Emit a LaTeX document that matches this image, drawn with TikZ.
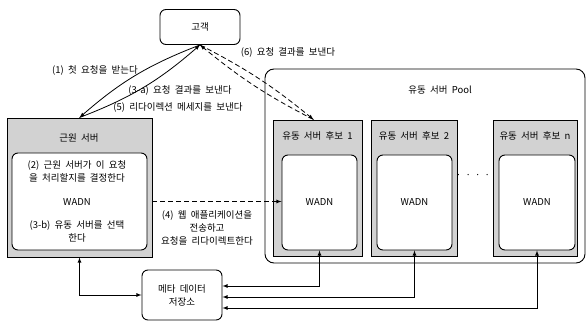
\documentclass[tikz,border=0pt]{standalone}
\usepackage{fontspec}
\setmainfont[WordSpace=2]{Noto Sans CJK KR}
\usetikzlibrary{arrows,positioning,calc}
\begin{document}
\begin{tikzpicture}[x=1pt,y=-1pt,>=latex,
  box/.style={draw,line width=0.9pt,rectangle,inner sep=0pt},
  srv/.style={box,fill=gray!35},
  wadn/.style={box,fill=white,rounded corners=6pt},
  lbl/.style={inner sep=1pt,font=\fontsize{9.5}{13}\selectfont,align=center},
  dsh/.style={->,thick,dash pattern=on 5pt off 3pt}]
  \useasboundingbox (0,0) rectangle (587,323);
  \node[box,lbl,rounded corners=6pt,minimum width=80pt,minimum height=35pt] (cust) at (200,27) {고객};

  \node[box,rounded corners=9pt,minimum width=320pt,minimum height=194pt] (pool) at (425,166) {};
  \node[lbl] (pooltxt) at (440,90) {유동 서버 Pool};

  \node[srv,minimum width=145pt,minimum height=139pt] (near) at (79.5,187.5) {};
  \node[wadn,minimum width=135pt,minimum height=97pt] (nearin) at (79.5,201.5) {};
  \node[lbl] (neartxt) at (79,138) {근원 서버};
  \node[lbl] (step2) at (77,171) {(2) 근원 서버가 이 요청\\을 처리할지를 결정한다};
  \node[lbl] (nearw) at (77,202) {WADN};
  \node[lbl] (step3b) at (77,231) {(3-b) 유동 서버를 선택\\한다};

  \node[srv,minimum width=89pt,minimum height=136pt] (cand1) at (317.5,188) {};
  \node[wadn,lbl,minimum width=75pt,minimum height=95pt] (cand1in) at (319.5,202.5) {WADN};
  \node[lbl] (cand1txt) at (317.5,136) {유동 서버 후보 1};

  \node[srv,minimum width=86pt,minimum height=136pt] (cand2) at (414,188) {};
  \node[wadn,lbl,minimum width=75pt,minimum height=95pt] (cand2in) at (414.5,202.5) {WADN};
  \node[lbl] (cand2txt) at (414,136) {유동 서버 후보 2};

  \node[lbl] (dots) at (473,176) {· · · ·};

  \node[srv,minimum width=84pt,minimum height=136pt] (candn) at (535,188) {};
  \node[wadn,lbl,minimum width=76pt,minimum height=95pt] (candnin) at (537,202.5) {WADN};
  \node[lbl] (candntxt) at (535,136) {유동 서버 후보 n};

  \node[box,lbl,rounded corners=6pt,minimum width=80pt,minimum height=50pt] (meta) at (182,295) {메타 데이터\\저장소};

  \draw[->,thick] (cust.south) to[bend right=10] (near.north);
  \draw[->,thick] (near.north) to[bend right=10] (cust.south);
  \node[lbl] (step1) at (95,70) {(1) 첫 요청을 받는다};
  \node[lbl] (step3a) at (180,90) {(3-a) 요청 결과를 보낸다};
  \node[lbl] (step5) at (178,108) {(5) 리다이렉션 메세지를 보낸다};

  \draw[dsh] (cust.south) to[bend left=6] ([xshift=-4pt]cand1.north);
  \draw[dsh] ([xshift=-4pt]cand1.north) to[bend left=6] (cust.south);
  \node[lbl] (step6) at (288,52) {(6) 요청 결과를 보낸다};

  \draw[dsh] (nearin.center -| near.east) -- (nearin.center -| cand1in.west);
  \node[lbl] (step4) at (207,228) {(4) 웹 애플리케이션을\\전송하고\\요청을 리다이렉트한다};

  \draw[<->,thick] (near.south) |- (meta.west);
  \draw[<->,thick] ([yshift=9pt]meta.east) -| (cand1in.south);
  \draw[<->,thick] ([yshift=-2pt]meta.east) -| (cand2in.south);
  \draw[<->,thick] ([yshift=-13pt]meta.east) -| (candnin.south);
\end{tikzpicture}
\end{document}
